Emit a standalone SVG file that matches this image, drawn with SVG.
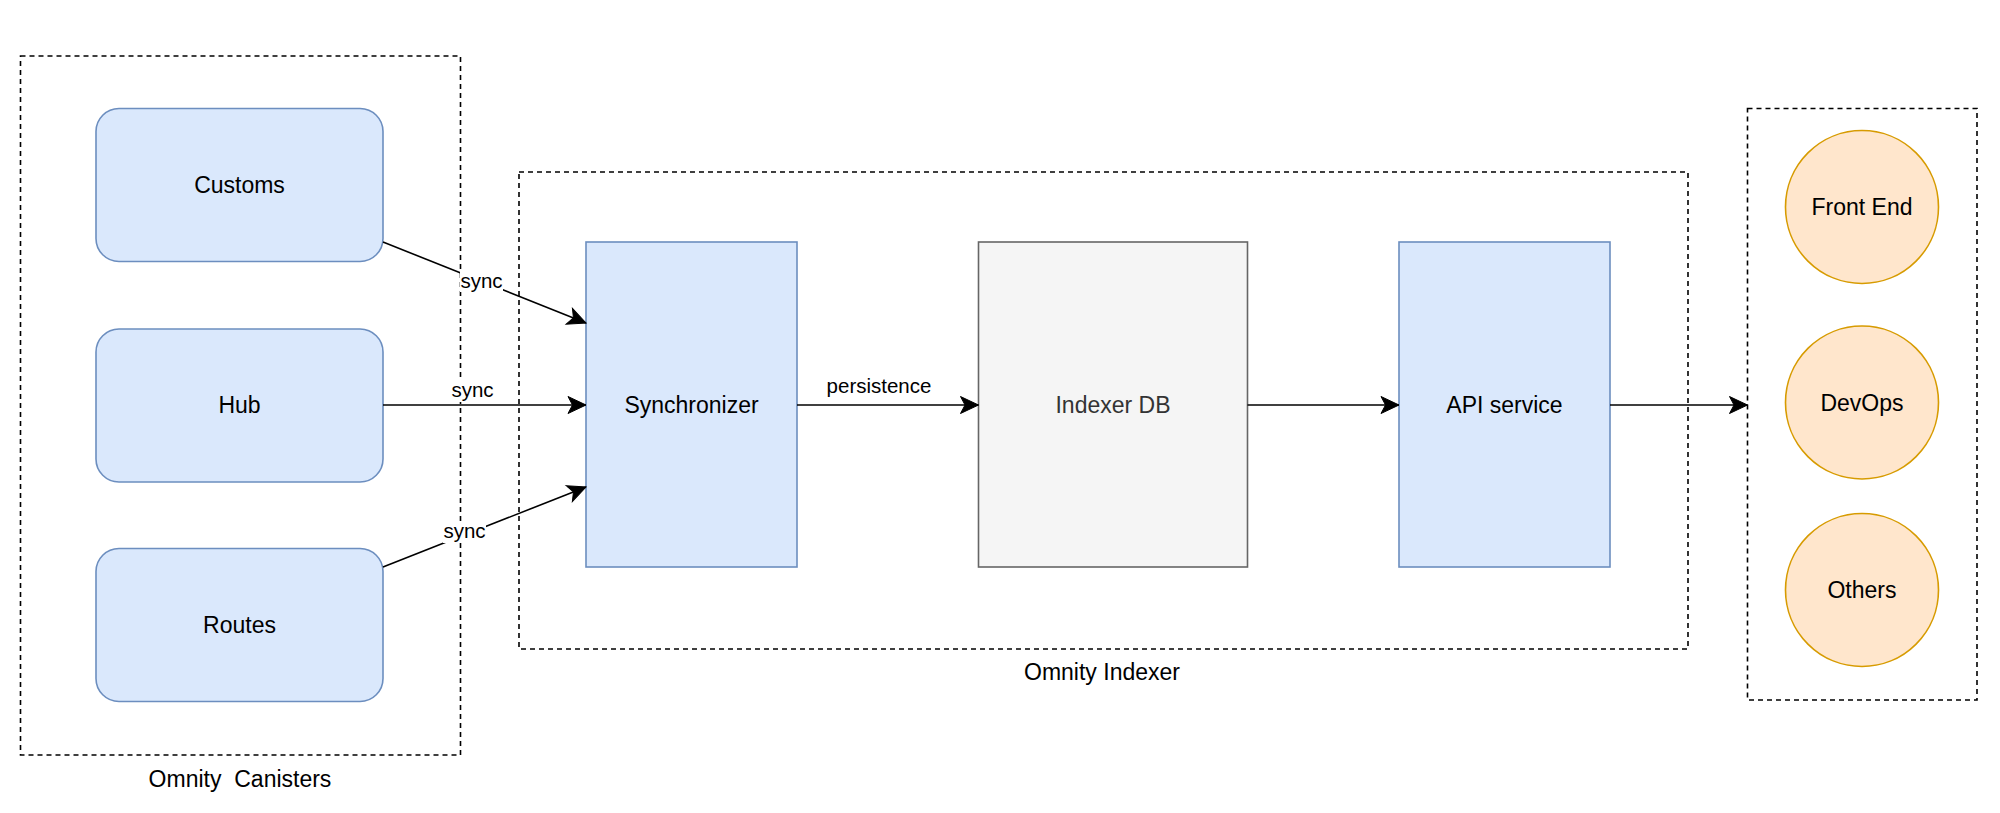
<svg xmlns="http://www.w3.org/2000/svg" width="2000" height="813" viewBox="0 0 2000 813">
<style>
text{font-family:"Liberation Sans",Arial,Helvetica,sans-serif;fill:#000;text-anchor:middle}
.node{font-size:23px}
.lbl{font-size:20.5px}
.blue{fill:#dae8fc;stroke:#6c8ebf;stroke-width:1.6}
.grey{fill:#f5f5f5;stroke:#666666;stroke-width:1.6}
.orange{fill:#ffe6cc;stroke:#d79b00;stroke-width:1.6}
.dash{fill:none;stroke:#000;stroke-width:1.6;stroke-dasharray:5 4}
.edge{fill:none;stroke:#000;stroke-width:1.6;marker-end:url(#arr)}
.bg{fill:#fff}
</style>
<defs>
<marker id="arr" markerUnits="userSpaceOnUse" markerWidth="24" markerHeight="24" viewBox="0 0 24 24" refX="21" refY="12" orient="auto">
<path d="M3,3.5 L21,12 L3,20.5 L7.5,12 Z" fill="#000" stroke="#000" stroke-width="1"/>
</marker>
</defs>
<rect width="2000" height="813" fill="#fff"/>
<g id="canisters-group">
<rect class="dash" x="20.5" y="56" width="440" height="699"/>
<text class="node" x="240" y="787" xml:space="preserve">Omnity  Canisters</text>
</g>
<g id="indexer-group">
<rect class="dash" x="519" y="172" width="1169" height="477"/>
<text class="node" x="1102" y="680">Omnity Indexer</text>
</g>
<g id="clients-group">
<rect class="dash" x="1747.5" y="108.5" width="229.5" height="591.5"/>
</g>
<g id="customs">
<rect class="blue" x="96" y="108.5" width="287" height="153" rx="23"/>
<text class="node" x="239.5" y="193">Customs</text>
</g>
<g id="hub">
<rect class="blue" x="96" y="329" width="287" height="153" rx="23"/>
<text class="node" x="239.5" y="413">Hub</text>
</g>
<g id="routes">
<rect class="blue" x="96" y="548.5" width="287" height="153" rx="23"/>
<text class="node" x="239.5" y="633">Routes</text>
</g>
<g id="synchronizer">
<rect class="blue" x="586" y="242" width="211" height="325"/>
<text class="node" x="691.5" y="413">Synchronizer</text>
</g>
<g id="indexer-db">
<rect class="grey" x="978.5" y="242" width="269" height="325"/>
<text class="node" x="1113" y="413" style="fill:#333333">Indexer DB</text>
</g>
<g id="api-service">
<rect class="blue" x="1399" y="242" width="211" height="325"/>
<text class="node" x="1504.5" y="413">API service</text>
</g>
<g id="front-end">
<circle class="orange" cx="1862" cy="207" r="76.5"/>
<text class="node" x="1862" y="215">Front End</text>
</g>
<g id="devops">
<circle class="orange" cx="1862" cy="402.5" r="76.5"/>
<text class="node" x="1862" y="410.5">DevOps</text>
</g>
<g id="others">
<circle class="orange" cx="1862" cy="590" r="76.5"/>
<text class="node" x="1862" y="598">Others</text>
</g>
<g id="connectors">
<path class="edge" d="M383,242 L586,323"/>
<path class="edge" d="M383,405 L586,405"/>
<path class="edge" d="M383,567 L586,487"/>
<path class="edge" d="M797,405 L978.5,405"/>
<path class="edge" d="M1247.5,405 L1399,405"/>
<path class="edge" d="M1610,405 L1747.5,405"/>
<rect class="bg" x="460" y="271" width="43" height="21"/>
<text class="lbl" x="481.5" y="288">sync</text>
<rect class="bg" x="451" y="381" width="43" height="21"/>
<text class="lbl" x="472.5" y="397">sync</text>
<rect class="bg" x="443" y="522" width="43" height="21"/>
<text class="lbl" x="464.5" y="538">sync</text>
<text class="lbl" x="879" y="393">persistence</text>
</g>
</svg>
